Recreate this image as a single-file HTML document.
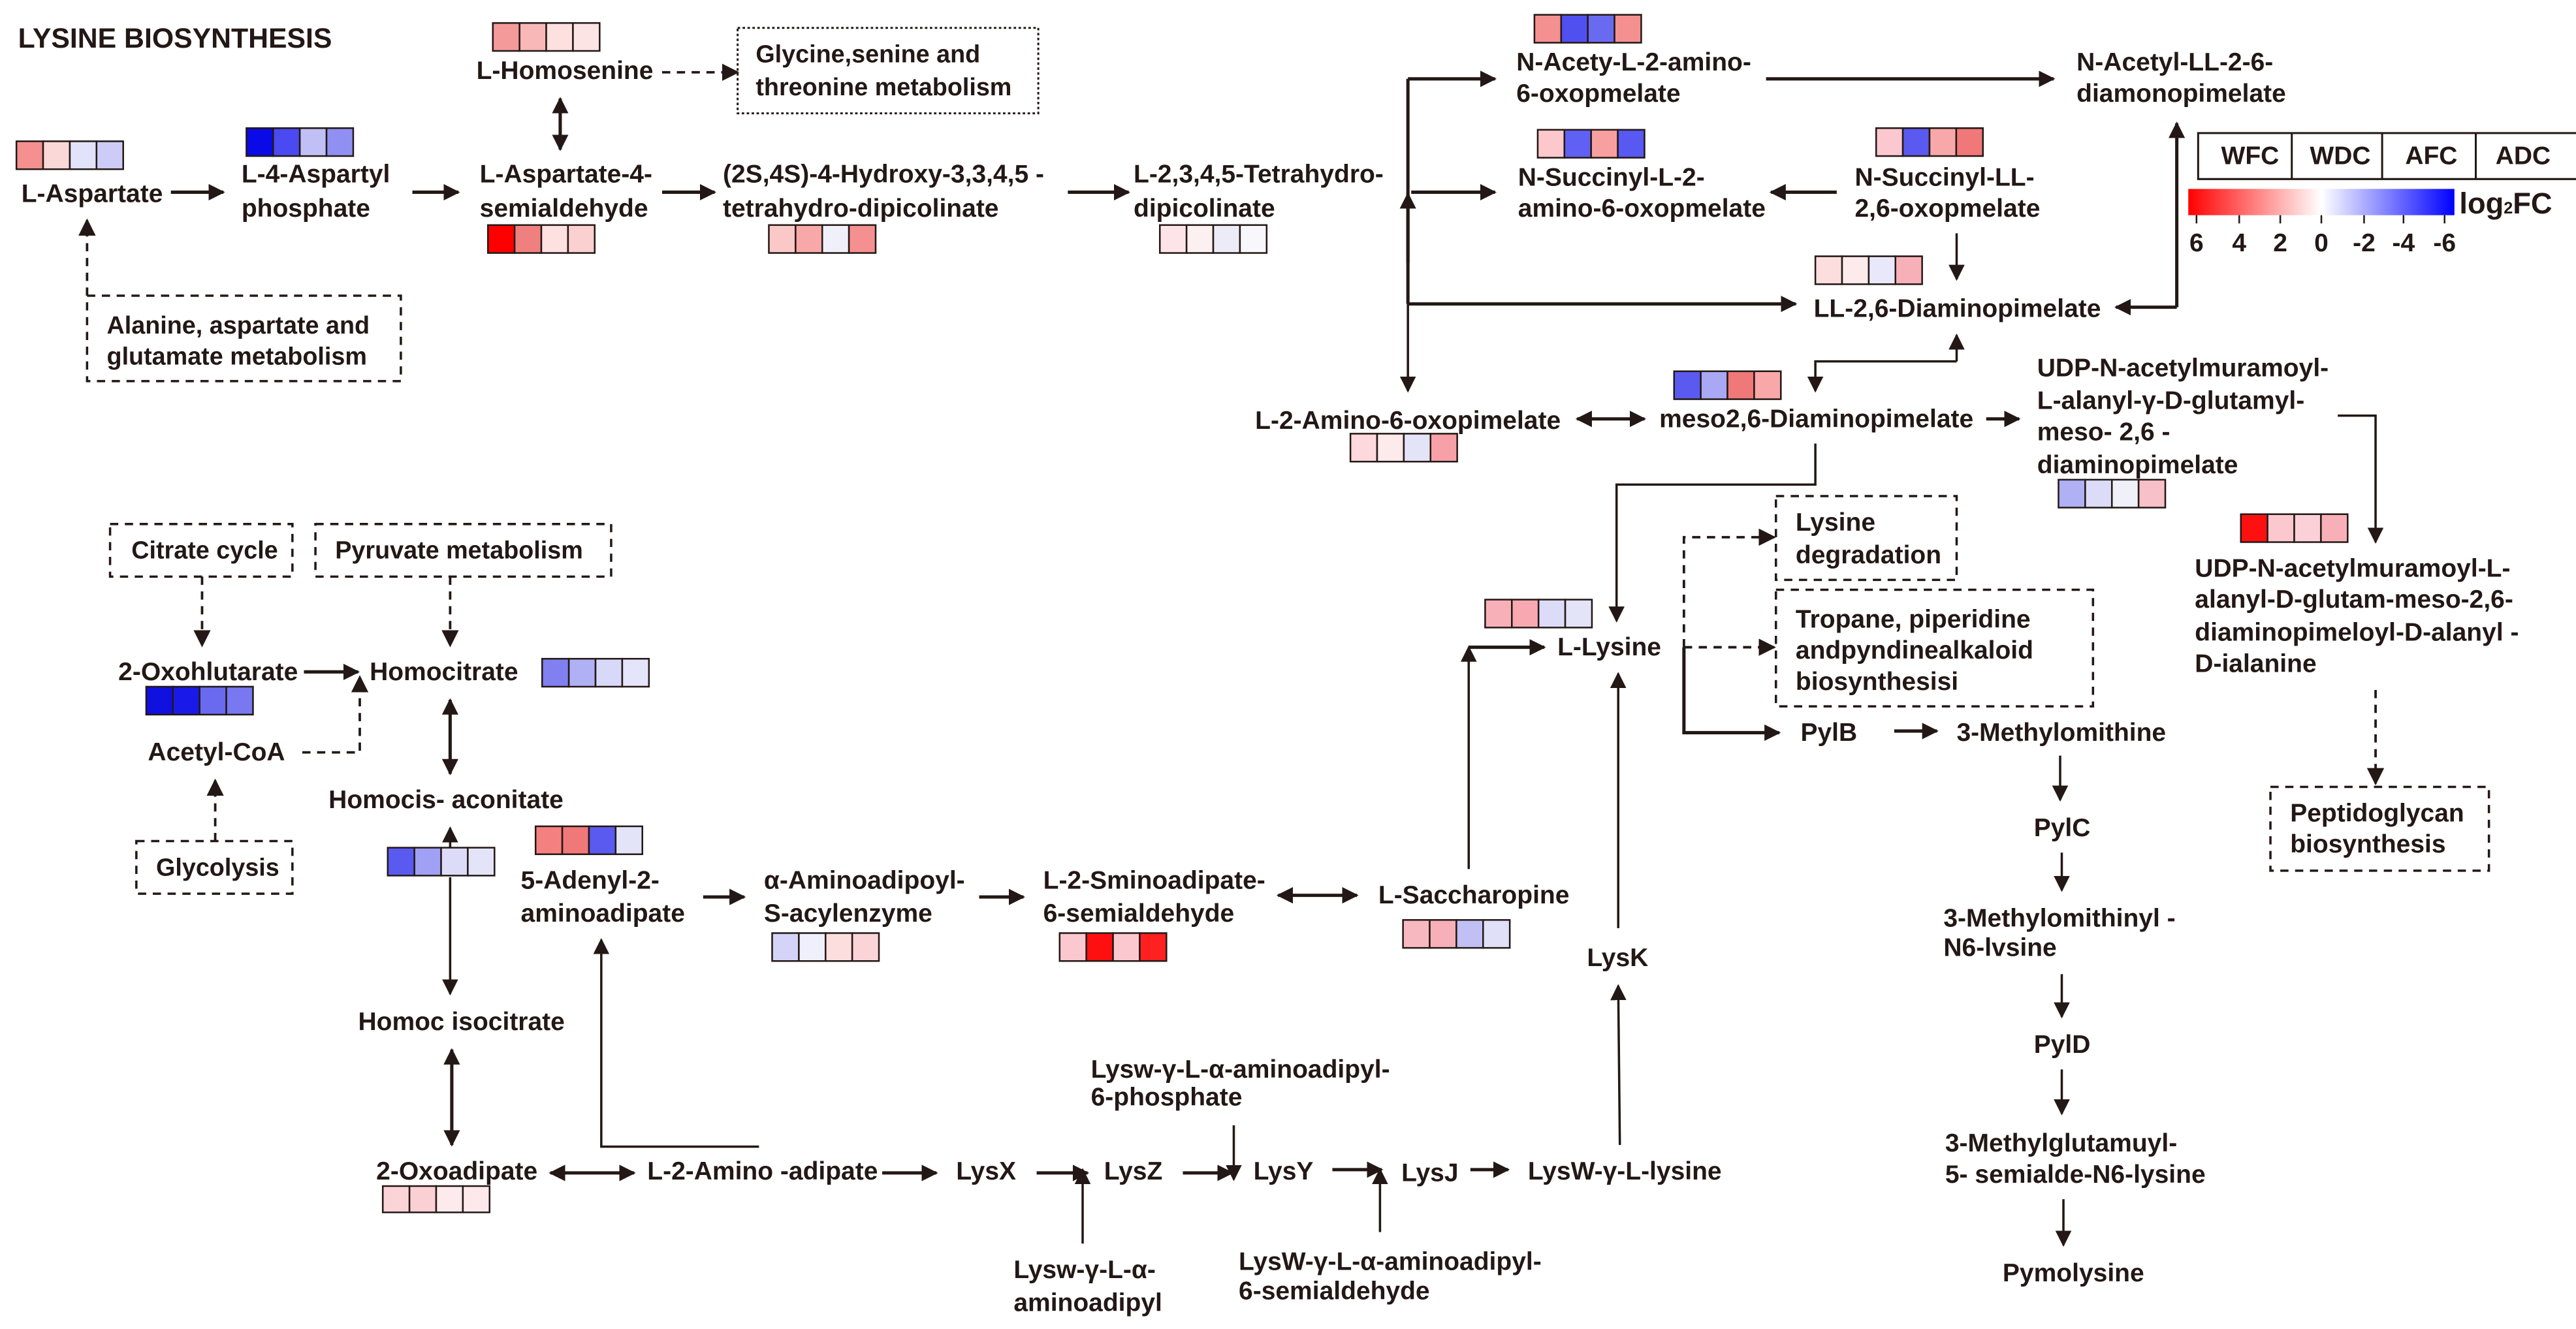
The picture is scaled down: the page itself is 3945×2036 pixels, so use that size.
<!DOCTYPE html>
<html><head><meta charset="utf-8"><style>
html,body{margin:0;padding:0;background:#fff}
svg{display:block}
text{font-family:"Liberation Sans",Arial,sans-serif;font-weight:bold;fill:#231815;font-size:15.5px}
</style></head><body>
<svg width="3945" height="2036" viewBox="0 0 1568 809" preserveAspectRatio="none" xmlns="http://www.w3.org/2000/svg">
<defs>
<marker id="a" viewBox="0 0 10 10" refX="9" refY="5" markerWidth="5" markerHeight="5" orient="auto-start-reverse" markerUnits="strokeWidth"><path d="M0,0 L10,5 L0,10 z" fill="#231815"/></marker>
<marker id="s" viewBox="0 0 10 10" refX="9" refY="5" markerWidth="7" markerHeight="7" orient="auto-start-reverse" markerUnits="strokeWidth"><path d="M0,0 L10,5 L0,10 z" fill="#231815"/></marker>
<linearGradient id="g" x1="0" x2="1" y1="0" y2="0"><stop offset="0" stop-color="#ff0000"/><stop offset="0.5" stop-color="#ffffff"/><stop offset="1" stop-color="#0000ff"/></linearGradient>
</defs>
<rect width="1568" height="809" fill="#fff"/>

<g stroke="#231815" fill="none">
<g stroke-width="2" marker-end="url(#a)">
<line x1="104" y1="117" x2="136" y2="117"/>
<line x1="251" y1="117" x2="279" y2="117"/>
<line x1="403" y1="117" x2="435" y2="117"/>
<line x1="650" y1="117" x2="687" y2="117"/>
<line x1="857" y1="48" x2="910" y2="48"/>
<line x1="859" y1="117" x2="910" y2="117"/>
<line x1="1075" y1="48" x2="1250" y2="48"/>
<line x1="1118" y1="117" x2="1078" y2="117"/>
<line x1="857" y1="185" x2="1093" y2="185"/>
<line x1="1209" y1="255" x2="1229" y2="255"/>
<line x1="185" y1="409" x2="218" y2="409"/>
<line x1="428" y1="546" x2="453" y2="546"/>
<line x1="596" y1="546" x2="623" y2="546"/>
<line x1="537" y1="714" x2="570" y2="714"/>
<line x1="631" y1="714" x2="662" y2="714"/>
<line x1="720" y1="714" x2="750" y2="714"/>
<line x1="811" y1="712" x2="841" y2="712"/>
<line x1="895" y1="712" x2="918" y2="712"/>
<line x1="1153" y1="445" x2="1179" y2="445"/>
<line x1="894" y1="394" x2="940" y2="394"/>
<polyline points="1025,394 1025,446 1083,446"/>
<polyline points="1325,187 1325,75" />
<line x1="1325" y1="187" x2="1288" y2="187"/>
<line x1="857" y1="160" x2="857" y2="118"/>
</g>
<line x1="857" y1="48" x2="857" y2="185" stroke-width="2"/>
<g stroke-width="2" marker-end="url(#a)" marker-start="url(#a)">
<line x1="341" y1="60" x2="341" y2="91"/>
<line x1="960" y1="255" x2="1001" y2="255"/>
<line x1="274" y1="426" x2="274" y2="471"/>
<line x1="275" y1="639" x2="275" y2="697"/>
<line x1="335" y1="714" x2="386" y2="714"/>
<line x1="778" y1="545" x2="826" y2="545"/>
</g>
<g stroke-width="1.4" marker-end="url(#s)">
<line x1="857" y1="185" x2="857" y2="238"/>
<line x1="1191" y1="142" x2="1191" y2="170"/>
<polyline points="1191,220 1191,204"/>
<polyline points="1191,220 1105,220 1105,238"/>
<polyline points="1423,253 1446,253 1446,330"/>
<polyline points="1105,270 1105,295 984,295 984,378"/>
<polyline points="894,529 894,394"/>
<line x1="985" y1="565" x2="985" y2="410"/>
<line x1="986" y1="697" x2="985" y2="600"/>
<line x1="1254" y1="460" x2="1254" y2="487"/>
<line x1="1255" y1="519" x2="1255" y2="542"/>
<line x1="1255" y1="593" x2="1255" y2="619"/>
<line x1="1255" y1="651" x2="1255" y2="678"/>
<line x1="1256" y1="730" x2="1256" y2="758"/>
<line x1="274" y1="534" x2="274" y2="605"/>
<line x1="274" y1="516" x2="274" y2="504"/>
<polyline points="462,698 366,698 366,572"/>
<line x1="751" y1="685" x2="751" y2="718"/>
<line x1="659" y1="757" x2="659" y2="712"/>
<line x1="840" y1="750" x2="840" y2="712"/>
</g>
<g stroke-width="1.5" stroke-dasharray="5,4" marker-end="url(#s)">
<line x1="403" y1="44" x2="449" y2="44"/>
<line x1="53" y1="180" x2="53" y2="134"/>
<line x1="123" y1="351" x2="123" y2="393"/>
<line x1="274" y1="351" x2="274" y2="393"/>
<polyline points="184,458 219,458 219,412"/>
<line x1="131" y1="512" x2="131" y2="475"/>
<polyline points="1025,394 1025,327 1080,327"/>
<line x1="1025" y1="394" x2="1080" y2="394"/>
<line x1="1446" y1="420" x2="1446" y2="477"/>
</g>
<g stroke-width="1.4" stroke-dasharray="5,4">
<rect x="53" y="180" width="191" height="52"/>
<rect x="67" y="319" width="111" height="32"/>
<rect x="192" y="319" width="180" height="32"/>
<rect x="83" y="512" width="95" height="32"/>
<rect x="1081" y="302" width="110" height="51"/>
<rect x="1081" y="359" width="193" height="71"/>
<rect x="1382" y="479" width="133" height="51"/>
</g>
<rect x="449" y="17" width="183" height="52" stroke-width="1.2" stroke-dasharray="1.5,1.5"/>
</g>

<g stroke="#231815" stroke-width="1">
<g transform="translate(10,86)"><rect width="16.25" height="17" fill="#f59090"/><rect x="16.25" width="16.25" height="17" fill="#fbd8d8"/><rect x="32.5" width="16.25" height="17" fill="#e2e2fa"/><rect x="48.75" width="16.25" height="17" fill="#ccccf6"/></g>
<g transform="translate(150,78)"><rect width="16.25" height="17" fill="#0a0ae6"/><rect x="16.25" width="16.25" height="17" fill="#4a4af0"/><rect x="32.5" width="16.25" height="17" fill="#c0c0f6"/><rect x="48.75" width="16.25" height="17" fill="#9090f2"/></g>
<g transform="translate(300,14)"><rect width="16.25" height="17" fill="#f59a9a"/><rect x="16.25" width="16.25" height="17" fill="#f8b8b8"/><rect x="32.5" width="16.25" height="17" fill="#fde0e0"/><rect x="48.75" width="16.25" height="17" fill="#fde4e4"/></g>
<g transform="translate(297,137)"><rect width="16.25" height="17" fill="#ff0000"/><rect x="16.25" width="16.25" height="17" fill="#f08080"/><rect x="32.5" width="16.25" height="17" fill="#fde0e0"/><rect x="48.75" width="16.25" height="17" fill="#fbd0d0"/></g>
<g transform="translate(468,137)"><rect width="16.25" height="17" fill="#fbc8c8"/><rect x="16.25" width="16.25" height="17" fill="#f8a8a8"/><rect x="32.5" width="16.25" height="17" fill="#f0f0fa"/><rect x="48.75" width="16.25" height="17" fill="#f59090"/></g>
<g transform="translate(706,137)"><rect width="16.25" height="17" fill="#fde4e8"/><rect x="16.25" width="16.25" height="17" fill="#fdf0f0"/><rect x="32.5" width="16.25" height="17" fill="#ececf8"/><rect x="48.75" width="16.25" height="17" fill="#f8f8fc"/></g>
<g transform="translate(934,9)"><rect width="16.25" height="17" fill="#f59090"/><rect x="16.25" width="16.25" height="17" fill="#5050f0"/><rect x="32.5" width="16.25" height="17" fill="#6a6af0"/><rect x="48.75" width="16.25" height="17" fill="#f59090"/></g>
<g transform="translate(936,79)"><rect width="16.25" height="17" fill="#fcc8cc"/><rect x="16.25" width="16.25" height="17" fill="#6060f4"/><rect x="32.5" width="16.25" height="17" fill="#f8a0a0"/><rect x="48.75" width="16.25" height="17" fill="#5858f2"/></g>
<g transform="translate(1142,78)"><rect width="16.25" height="17" fill="#fbc8d0"/><rect x="16.25" width="16.25" height="17" fill="#5a5af0"/><rect x="32.5" width="16.25" height="17" fill="#f8a8a8"/><rect x="48.75" width="16.25" height="17" fill="#f07878"/></g>
<g transform="translate(1105,156)"><rect width="16.25" height="17" fill="#fddede"/><rect x="16.25" width="16.25" height="17" fill="#fdeaea"/><rect x="32.5" width="16.25" height="17" fill="#e8e8fa"/><rect x="48.75" width="16.25" height="17" fill="#f8b0b8"/></g>
<g transform="translate(1019,226)"><rect width="16.25" height="17" fill="#5a5af0"/><rect x="16.25" width="16.25" height="17" fill="#a8a8f5"/><rect x="32.5" width="16.25" height="17" fill="#f07878"/><rect x="48.75" width="16.25" height="17" fill="#f8a8a8"/></g>
<g transform="translate(822,264)"><rect width="16.25" height="17" fill="#fdd8dc"/><rect x="16.25" width="16.25" height="17" fill="#fdeaea"/><rect x="32.5" width="16.25" height="17" fill="#e4e4f8"/><rect x="48.75" width="16.25" height="17" fill="#f8a0a8"/></g>
<g transform="translate(1253,292)"><rect width="16.25" height="17" fill="#b0b0f5"/><rect x="16.25" width="16.25" height="17" fill="#dcdcf8"/><rect x="32.5" width="16.25" height="17" fill="#f0f0fa"/><rect x="48.75" width="16.25" height="17" fill="#f8c0c8"/></g>
<g transform="translate(1364,313)"><rect width="16.25" height="17" fill="#ff1010"/><rect x="16.25" width="16.25" height="17" fill="#fbc8d0"/><rect x="32.5" width="16.25" height="17" fill="#fbd0d8"/><rect x="48.75" width="16.25" height="17" fill="#f8b0b8"/></g>
<g transform="translate(904,365)"><rect width="16.25" height="17" fill="#f8b0b8"/><rect x="16.25" width="16.25" height="17" fill="#f8a8b0"/><rect x="32.5" width="16.25" height="17" fill="#dcdcf8"/><rect x="48.75" width="16.25" height="17" fill="#e4e4f8"/></g>
<g transform="translate(330,401)"><rect width="16.25" height="17" fill="#8080f0"/><rect x="16.25" width="16.25" height="17" fill="#b0b0f5"/><rect x="32.5" width="16.25" height="17" fill="#d8d8f8"/><rect x="48.75" width="16.25" height="17" fill="#e4e4fa"/></g>
<g transform="translate(89,418)"><rect width="16.25" height="17" fill="#1010e0"/><rect x="16.25" width="16.25" height="17" fill="#1a1ae8"/><rect x="32.5" width="16.25" height="17" fill="#6a6af0"/><rect x="48.75" width="16.25" height="17" fill="#7878f0"/></g>
<g transform="translate(236,516)"><rect width="16.25" height="17" fill="#5a5af0"/><rect x="16.25" width="16.25" height="17" fill="#a0a0f5"/><rect x="32.5" width="16.25" height="17" fill="#dcdcf8"/><rect x="48.75" width="16.25" height="17" fill="#e4e4f8"/></g>
<g transform="translate(326,503)"><rect width="16.25" height="17" fill="#f58080"/><rect x="16.25" width="16.25" height="17" fill="#f07878"/><rect x="32.5" width="16.25" height="17" fill="#5a5af0"/><rect x="48.75" width="16.25" height="17" fill="#e4e4f8"/></g>
<g transform="translate(470,568)"><rect width="16.25" height="17" fill="#d4d4f8"/><rect x="16.25" width="16.25" height="17" fill="#f0f0fc"/><rect x="32.5" width="16.25" height="17" fill="#fddede"/><rect x="48.75" width="16.25" height="17" fill="#fbd4d8"/></g>
<g transform="translate(645,568)"><rect width="16.25" height="17" fill="#fbc8d0"/><rect x="16.25" width="16.25" height="17" fill="#ff1010"/><rect x="32.5" width="16.25" height="17" fill="#fbc8d0"/><rect x="48.75" width="16.25" height="17" fill="#ff2020"/></g>
<g transform="translate(854,560)"><rect width="16.25" height="17" fill="#f8b8c0"/><rect x="16.25" width="16.25" height="17" fill="#f8b0b8"/><rect x="32.5" width="16.25" height="17" fill="#c0c0f5"/><rect x="48.75" width="16.25" height="17" fill="#e0e0f8"/></g>
<g transform="translate(233,722)"><rect width="16.25" height="16" fill="#fbd4d8"/><rect x="16.25" width="16.25" height="16" fill="#fbd0d4"/><rect x="32.5" width="16.25" height="16" fill="#fdeaec"/><rect x="48.75" width="16.25" height="16" fill="#fde8ec"/></g>
</g>

<g stroke="#231815" stroke-width="1.2" fill="none">
<polyline points="1570,81 1338,81 1338,109 1570,109"/>
<line x1="1395" y1="81" x2="1395" y2="109"/>
<line x1="1450" y1="81" x2="1450" y2="109"/>
<line x1="1507" y1="81" x2="1507" y2="109"/>
</g>
<rect x="1332" y="115" width="162" height="16" fill="url(#g)"/>
<g stroke="#231815" stroke-width="1">
<line x1="1337" y1="131" x2="1337" y2="136"/><line x1="1363" y1="131" x2="1363" y2="136"/><line x1="1388" y1="131" x2="1388" y2="136"/><line x1="1413" y1="131" x2="1413" y2="136"/><line x1="1439" y1="131" x2="1439" y2="136"/><line x1="1463" y1="131" x2="1463" y2="136"/><line x1="1488" y1="131" x2="1488" y2="136"/>
</g>
<g style="font-size:11px">
<text x="1352" y="100">WFC</text><text x="1406" y="100">WDC</text><text x="1464" y="100">AFC</text><text x="1519" y="100">ADC</text>
</g>
<g style="font-size:15px" text-anchor="middle">
<text x="1337" y="153">6</text><text x="1363" y="153">4</text><text x="1388" y="153">2</text><text x="1413" y="153">0</text><text x="1439" y="153">-2</text><text x="1463" y="153">-4</text><text x="1488" y="153">-6</text>
</g>
<text x="1497" y="130" style="font-size:18px">log<tspan style="font-size:10px">2</tspan>FC</text>

<text x="11" y="29" style="font-size:17px">LYSINE BIOSYNTHESIS</text>
<text x="13" y="123">L-Aspartate</text>
<text x="147" y="111">L-4-Aspartyl</text><text x="147" y="132">phosphate</text>
<text x="290" y="48">L-Homosenine</text>
<text x="460" y="38" style="font-size:15px">Glycine,senine and</text><text x="460" y="58" style="font-size:15px">threonine metabolism</text>
<text x="292" y="111">L-Aspartate-4-</text><text x="292" y="132">semialdehyde</text>
<text x="440" y="111">(2S,4S)-4-Hydroxy-3,3,4,5 -</text><text x="440" y="132">tetrahydro-dipicolinate</text>
<text x="690" y="111">L-2,3,4,5-Tetrahydro-</text><text x="690" y="132">dipicolinate</text>
<text x="65" y="203" style="font-size:15px">Alanine, aspartate and</text><text x="65" y="222" style="font-size:15px">glutamate metabolism</text>
<text x="923" y="43">N-Acety-L-2-amino-</text><text x="923" y="62">6-oxopmelate</text>
<text x="1264" y="43">N-Acetyl-LL-2-6-</text><text x="1264" y="62">diamonopimelate</text>
<text x="924" y="113">N-Succinyl-L-2-</text><text x="924" y="132">amino-6-oxopmelate</text>
<text x="1129" y="113">N-Succinyl-LL-</text><text x="1129" y="132">2,6-oxopmelate</text>
<text x="1104" y="193">LL-2,6-Diaminopimelate</text>
<text x="764" y="261">L-2-Amino-6-oxopimelate</text>
<text x="1010" y="260">meso2,6-Diaminopimelate</text>
<text x="1240" y="229">UDP-N-acetylmuramoyl-</text><text x="1240" y="249">L-alanyl-γ-D-glutamyl-</text><text x="1240" y="268">meso- 2,6 -</text><text x="1240" y="288">diaminopimelate</text>
<text x="1336" y="351">UDP-N-acetylmuramoyl-L-</text><text x="1336" y="370">alanyl-D-glutam-meso-2,6-</text><text x="1336" y="390">diaminopimeloyl-D-alanyl -</text><text x="1336" y="409">D-ialanine</text>
<text x="1093" y="323">Lysine</text><text x="1093" y="343">degradation</text>
<text x="1093" y="382">Tropane, piperidine</text><text x="1093" y="401">andpyndinealkaloid</text><text x="1093" y="420">biosynthesisi</text>
<text x="1394" y="500">Peptidoglycan</text><text x="1394" y="519">biosynthesis</text>
<text x="948" y="399">L-Lysine</text>
<text x="1096" y="451">PylB</text>
<text x="1191" y="451">3-Methylomithine</text>
<text x="1238" y="509">PylC</text>
<text x="1183" y="564">3-Methylomithinyl -</text><text x="1183" y="582">N6-lvsine</text>
<text x="1238" y="641">PylD</text>
<text x="1184" y="701">3-Methylglutamuyl-</text><text x="1184" y="720">5- semialde-N6-lysine</text>
<text x="1219" y="780">Pymolysine</text>
<text x="80" y="340" style="font-size:15px">Citrate cycle</text>
<text x="204" y="340" style="font-size:15px">Pyruvate metabolism</text>
<text x="72" y="414">2-Oxohlutarate</text>
<text x="225" y="414">Homocitrate</text>
<text x="90" y="463">Acetyl-CoA</text>
<text x="95" y="533" style="font-size:15px">Glycolysis</text>
<text x="200" y="492">Homocis- aconitate</text>
<text x="218" y="627">Homoc isocitrate</text>
<text x="229" y="718">2-Oxoadipate</text>
<text x="394" y="718">L-2-Amino -adipate</text>
<text x="317" y="541">5-Adenyl-2-</text><text x="317" y="561">aminoadipate</text>
<text x="465" y="541">α-Aminoadipoyl-</text><text x="465" y="561">S-acylenzyme</text>
<text x="635" y="541">L-2-Sminoadipate-</text><text x="635" y="561">6-semialdehyde</text>
<text x="839" y="550">L-Saccharopine</text>
<text x="966" y="588">LysK</text>
<text x="664" y="656">Lysw-γ-L-α-aminoadipyl-</text><text x="664" y="673">6-phosphate</text>
<text x="582" y="718">LysX</text>
<text x="672" y="718">LysZ</text>
<text x="763" y="718">LysY</text>
<text x="853" y="719">LysJ</text>
<text x="930" y="718">LysW-γ-L-lysine</text>
<text x="617" y="778">Lysw-γ-L-α-</text><text x="617" y="798">aminoadipyl</text>
<text x="754" y="773">LysW-γ-L-α-aminoadipyl-</text><text x="754" y="791">6-semialdehyde</text>
</svg>
</body></html>
